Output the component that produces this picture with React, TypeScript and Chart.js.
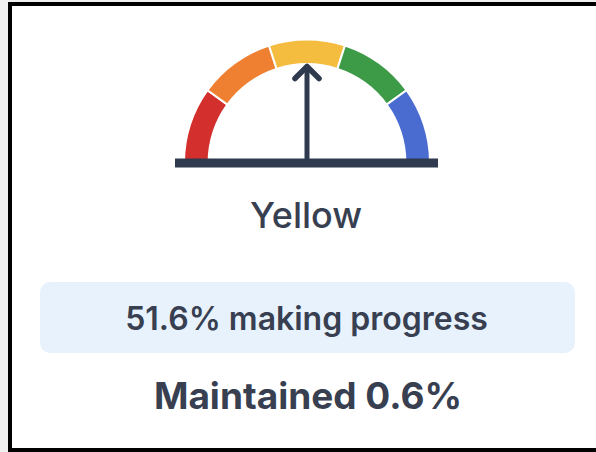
import React, { useEffect, useRef } from "react";
import { Chart, registerables } from "chart.js";

Chart.register(...registerables);

// ---- data ----
const zoneLabels = ["Red", "Orange", "Yellow", "Green", "Blue"];
const zoneValues = [20, 20, 20, 20, 20];
const zoneColors = ["#d32f2c", "#ef7f31", "#f5bd3f", "#3d9a46", "#4a6bd0"];
const needleValue = 50; // position on the 0-100 gauge
const statusLabel = "Yellow";
const progressPct = 51.6;
const progressText = "making progress";
const maintainedPct = 0.6;
const maintainedText = "Maintained";

const NAVY = "#2f3a4f";
const TEXT = "#373f51";

const gaugePlugin = {
  id: "gaugeNeedle",
  afterDatasetsDraw(chart: any) {
    const meta = chart.getDatasetMeta(0);
    const arc = meta.data[0];
    if (!arc) return;
    const cx = arc.x;
    const cy = arc.y;
    const ctx = chart.ctx;
    const total = zoneValues.reduce((a, b) => a + b, 0);
    const angle = Math.PI + (needleValue / total) * Math.PI;
    const len = 96;
    const tx = cx + Math.cos(angle) * len;
    const ty = cy + Math.sin(angle) * len;
    ctx.save();
    // baseline
    ctx.fillStyle = NAVY;
    ctx.fillRect(cx - 132, cy - 4, 263, 9);
    // shaft
    ctx.strokeStyle = NAVY;
    ctx.lineWidth = 5;
    ctx.lineCap = "butt";
    ctx.beginPath();
    ctx.moveTo(cx, cy);
    ctx.lineTo(tx, ty + 2);
    ctx.stroke();
    // arrow head
    ctx.lineWidth = 5.5;
    ctx.lineCap = "round";
    ctx.lineJoin = "round";
    const head = 17;
    const a1 = angle + Math.PI - Math.PI / 4;
    const a2 = angle + Math.PI + Math.PI / 4;
    ctx.beginPath();
    ctx.moveTo(tx + Math.cos(a1) * head, ty + Math.sin(a1) * head);
    ctx.lineTo(tx, ty);
    ctx.lineTo(tx + Math.cos(a2) * head, ty + Math.sin(a2) * head);
    ctx.stroke();
    ctx.restore();
  },
};

function Gauge() {
  const ref = useRef<HTMLCanvasElement | null>(null);
  useEffect(() => {
    if (!ref.current) return;
    const chart = new Chart(ref.current, {
      type: "doughnut",
      data: {
        labels: zoneLabels,
        datasets: [
          {
            data: zoneValues,
            backgroundColor: zoneColors,
            borderColor: "#ffffff",
            borderWidth: 2,
          },
        ],
      },
      options: {
        responsive: false,
        animation: false,
        devicePixelRatio: 1,
        rotation: -90,
        circumference: 180,
        radius: 123,
        cutout: "80%",
        layout: { padding: 0 },
        plugins: {
          legend: { display: false },
          tooltip: { enabled: false },
        },
        events: [],
      },
      plugins: [gaugePlugin],
    } as any);
    return () => chart.destroy();
  }, []);
  return (
    <canvas
      ref={ref}
      width={280}
      height={150}
      style={{ position: "absolute", left: 167, top: 26, width: 280, height: 150 }}
    />
  );
}

export default function App() {
  useEffect(() => {
    document.body.style.margin = "0";
    document.body.style.overflow = "hidden";
  }, []);
  const bar = (s: React.CSSProperties) => (
    <div style={{ position: "absolute", background: "#000", ...s }} />
  );
  return (
    <div
      style={{
        position: "fixed",
        left: 0,
        top: 0,
        width: 596,
        height: 452,
        background: "#f0f0f0",
        overflow: "hidden",
        fontFamily: "Inter, 'Noto Sans', sans-serif",
      }}
    >
      <div style={{ position: "absolute", left: 8, top: 2, width: 588, height: 450, background: "#fff" }} />
      {bar({ left: 8, top: 2, width: 588, height: 4 })}
      {bar({ left: 8, top: 2, width: 4, height: 450 })}
      {bar({ left: 8, top: 448, width: 588, height: 4 })}
      <Gauge />
      <div
        style={{
          position: "absolute",
          left: 0,
          width: 596,
          paddingLeft: 16,
          boxSizing: "border-box",
          top: 193,
          fontSize: 36,
          lineHeight: "44px",
          textAlign: "center",
          color: TEXT,
          fontWeight: 500,
        }}
      >
        {statusLabel}
      </div>
      <div
        style={{
          position: "absolute",
          left: 40,
          top: 282,
          width: 535,
          height: 71,
          borderRadius: 10,
          background: "#e8f2fd",
        }}
      />
      <div
        style={{
          position: "absolute",
          left: 0,
          width: 596,
          paddingLeft: 17,
          boxSizing: "border-box",
          top: 299,
          fontSize: 32,
          lineHeight: "40px",
          textAlign: "center",
          color: TEXT,
          fontWeight: 600,
        }}
      >
        {`${progressPct}% ${progressText}`}
      </div>
      <div
        style={{
          position: "absolute",
          left: 0,
          width: 596,
          paddingLeft: 20,
          boxSizing: "border-box",
          top: 374,
          fontSize: 37,
          lineHeight: "44px",
          textAlign: "center",
          color: TEXT,
          fontWeight: 700,
        }}
      >
        {`${maintainedText} ${maintainedPct}%`}
      </div>
      <div style={{ position: "absolute", left: 584, top: 6, width: 12, height: 442, background: "#fff", zIndex: 10 }} />
    </div>
  );
}
